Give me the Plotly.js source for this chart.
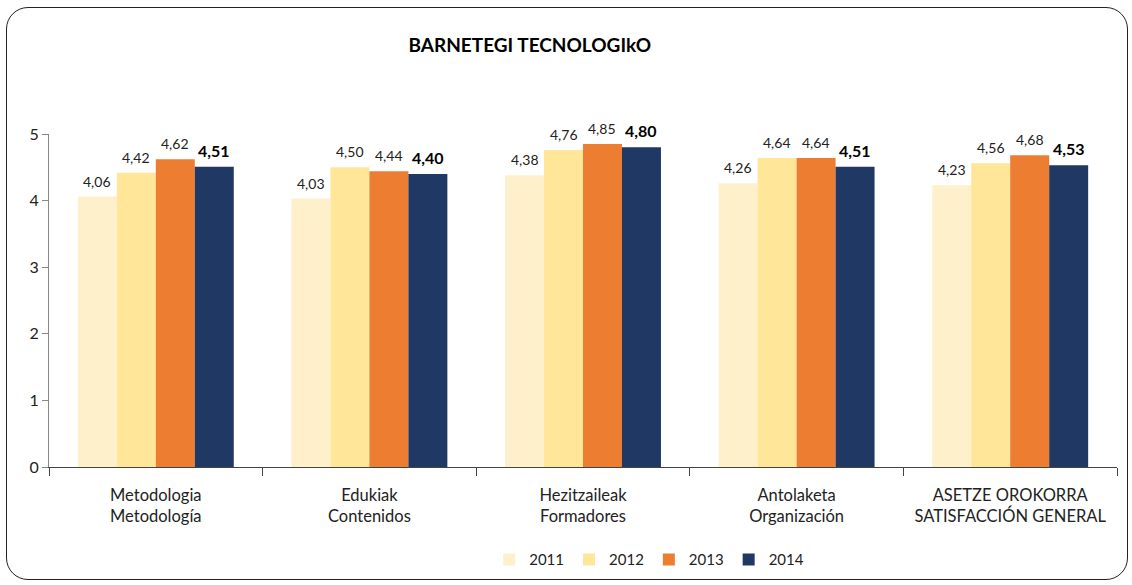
<!DOCTYPE html>
<html>
<head>
<meta charset="utf-8">
<script src="https://cdn.plot.ly/plotly-3.0.1.min.js"></script>
<style>
html,body{margin:0;padding:0;background:#fff;}
#wrap{position:relative;width:1132px;height:585px;}
#chart{width:1132px;height:585px;}
#frame{position:absolute;left:6px;top:7px;width:1120px;height:571px;border:1.5px solid #222;border-radius:22px;pointer-events:none;}
</style>
</head>
<body>
<div id="wrap"><div id="chart"></div><div id="frame"></div></div>
<script>
const categories = ["Metodologia<br>Metodología","Edukiak<br>Contenidos","Hezitzaileak<br>Formadores","Antolaketa<br>Organización","ASETZE OROKORRA<br>SATISFACCIÓN GENERAL"];
const years = ["2011","2012","2013","2014"];
const v2011 = [4.06,4.03,4.38,4.26,4.23];
const v2012 = [4.42,4.50,4.76,4.64,4.56];
const v2013 = [4.62,4.44,4.85,4.64,4.68];
const v2014 = [4.51,4.40,4.80,4.51,4.53];
const colors = ["#FFF0CC","#FFE699","#ED7D31","#203864"];
const series = [v2011,v2012,v2013,v2014];

const font = "Lato, 'Open Sans', sans-serif";
const bargap = 0.27;
const nS = series.length;
const barW = (1 - bargap) / nS;

const traces = series.map((vals,i)=>({
  type:'bar', name:years[i], x:categories, y:vals,
  marker:{color:colors[i]}
}));

const fmt = v => v.toFixed(2).replace('.', ',');
const annotations = [];
series.forEach((vals,i)=>{
  vals.forEach((v,j)=>{
    annotations.push({
      x: j + (i - (nS-1)/2) * barW, y: v, xref:'x', yref:'y',
      text: i===3 ? '<b>'+fmt(v)+'</b>' : fmt(v),
      showarrow:false, yanchor:'bottom', xanchor:'center', yshift:5,
      font: i===3 ? {family:font,size:16,color:'#000'} : {family:font,size:14,color:'#222'}
    });
  });
});

const layout = {
  width:1132, height:585,
  margin:{l:49,r:15,t:134,b:118, autoexpand:false},
  separators:',.',
  paper_bgcolor:'#fff', plot_bgcolor:'#fff',
  barmode:'group', bargap:bargap, bargroupgap:0,
  title:{text:'<b>BARNETEGI TECNOLOGIkO</b>', x:0.468, xanchor:'center', y:0.922, yanchor:'middle', font:{family:font,size:19,color:'#000'}},
  font:{family:font,color:'#222'},
  xaxis:{showline:true, linecolor:'#444', linewidth:1, ticks:'outside', tickson:'boundaries', ticklen:8, tickcolor:'#444',
         tickfont:{family:font,size:16.5,color:'#222'}, showgrid:false, ticklabelstandoff:13},
  yaxis:{range:[0,5], showline:true, linecolor:'#888', linewidth:1, ticks:'outside', ticklen:6, tickcolor:'#888',
         dtick:1, tickfont:{family:font,size:16,color:'#222'}, showgrid:false, zeroline:false},
  legend:{orientation:'h', x:0.562, xanchor:'center', yref:'container', y:0.043, yanchor:'middle', itemwidth:30,
          font:{family:font,size:15,color:'#222'}, traceorder:'normal'},
  annotations: annotations,
  showlegend:true
};
Plotly.newPlot('chart', traces, layout, {displayModeBar:false, staticPlot:true});
</script>
</body>
</html>
